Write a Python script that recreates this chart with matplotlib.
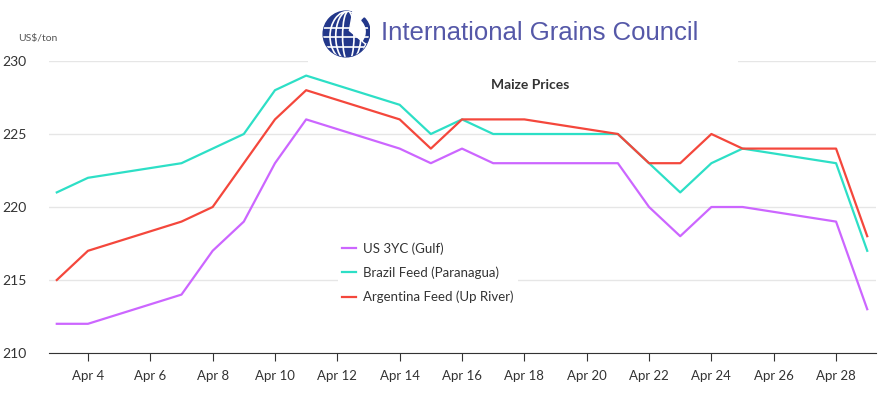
import numpy as np
import pandas as pd
import matplotlib
matplotlib.use("Agg")
import matplotlib.pyplot as plt
import matplotlib.dates as mdates
from matplotlib.patches import Circle, Ellipse, Rectangle, Wedge

plt.rcParams['font.family'] = ['Lato', 'DejaVu Sans']

dates = pd.to_datetime([
    "2025-04-03", "2025-04-04", "2025-04-07", "2025-04-08", "2025-04-09",
    "2025-04-10", "2025-04-11", "2025-04-14", "2025-04-15", "2025-04-16",
    "2025-04-17", "2025-04-18", "2025-04-21", "2025-04-22", "2025-04-23",
    "2025-04-24", "2025-04-25", "2025-04-28", "2025-04-29",
])

us_gulf = [212, 212, 214, 217, 219, 223, 226, 224, 223, 224,
           223, 223, 223, 220, 218, 220, 220, 219, 213]
brazil = [221, 222, 223, 224, 225, 228, 229, 227, 225, 226,
          225, 225, 225, 223, 221, 223, 224, 223, 217]
argentina = [215, 217, 219, 220, 223, 226, 228, 226, 224, 226,
             226, 226, 225, 223, 223, 225, 224, 224, 218]

series = [
    ("US 3YC (Gulf)", us_gulf, "#cc66ff"),
    ("Brazil Feed (Paranagua)", brazil, "#2ddfc6"),
    ("Argentina Feed (Up River)", argentina, "#f4473c"),
]

W, H = 886, 398
fig = plt.figure(figsize=(W / 100, H / 100), dpi=100)
ax = fig.add_axes([49 / W, 1 - 353 / H, (876 - 49) / W, (353 - 61) / H])

for name, vals, col in series:
    ax.plot(dates, vals, color=col, linewidth=1.6, label=name, zorder=3)

ax.set_ylim(210, 230)
ax.set_yticks([210, 215, 220, 225, 230])
ax.set_xlim(pd.Timestamp("2025-04-02 18:00"), pd.Timestamp("2025-04-29 06:45"))
ax.xaxis.set_major_locator(mdates.DayLocator(bymonthday=range(4, 30, 2)))
ax.xaxis.set_major_formatter(plt.FuncFormatter(
    lambda v, p: "Apr %d" % mdates.num2date(v).day))

ax.grid(axis='y', color='#e6e6e6', linewidth=1)
ax.set_axisbelow(True)
for s in ['top', 'right', 'left']:
    ax.spines[s].set_visible(False)
ax.spines['bottom'].set_color('#333333')
ax.tick_params(axis='y', length=0, pad=16, labelsize=10, labelcolor='#333333')
ax.tick_params(axis='x', length=6, color='#333333', pad=6, labelsize=9.5, labelcolor='#333333')

fig.text(18 / W, 1 - 38 / H, "US$/ton", fontsize=7.5, color='#555555', va='center')
fig.text(530 / W, 1 - 85 / H, "Maize Prices", fontsize=10, fontweight='bold',
         color='#333333', ha='center', va='center')

leg = fig.legend(loc='upper left', bbox_to_anchor=(338 / W, 1 - 238 / H),
                 frameon=True, fontsize=9.5, handlelength=1.1, handletextpad=0.5,
                 labelspacing=0.9, borderpad=0.3, borderaxespad=0)
leg.get_frame().set_facecolor('white')
leg.get_frame().set_edgecolor('none')
leg.get_frame().set_alpha(1)
for t in leg.get_texts():
    t.set_color('#333333')

# logo panel
fig.patches.append(Rectangle((308 / W, 1 - 66 / H), (738 - 308) / W, 66 / H,
                             transform=fig.transFigure, facecolor='white',
                             edgecolor='none', zorder=1))
fig.text(381 / W, 1 - 33 / H, "International Grains Council", fontsize=18.5,
         color='#5558a8', va='center', family=['Liberation Sans', 'DejaVu Sans'])

lg = fig.add_axes([322 / W, 1 - 58 / H, 48 / W, 48 / H])
lg.set_zorder(5)
lg.patch.set_alpha(0)
lg.set_xlim(-1.05, 1.05)
lg.set_ylim(-1.05, 1.05)
lg.set_aspect('equal')
lg.axis('off')
globe = Circle((0, 0), 1, color='#22378a')
lg.add_patch(globe)
for yy in [-0.55, -0.15, 0.25]:
    ln, = lg.plot([-1, 1], [yy, yy], color='white', linewidth=1.2)
    ln.set_clip_path(globe)
for w in [0.5, 1.1, 1.6]:
    e = Ellipse((0.1, -0.1), w, 2.2, fill=False, edgecolor='white', linewidth=1.2)
    lg.add_patch(e)
    e.set_clip_path(globe)
lg.add_patch(Wedge((0.15, 0.15), 0.9, -40, 80, color='white'))
lg.add_patch(Wedge((0.2, 0.1), 0.85, -35, 45, width=0.15, color='#22378a'))

fig.savefig("out.png", dpi=100)
